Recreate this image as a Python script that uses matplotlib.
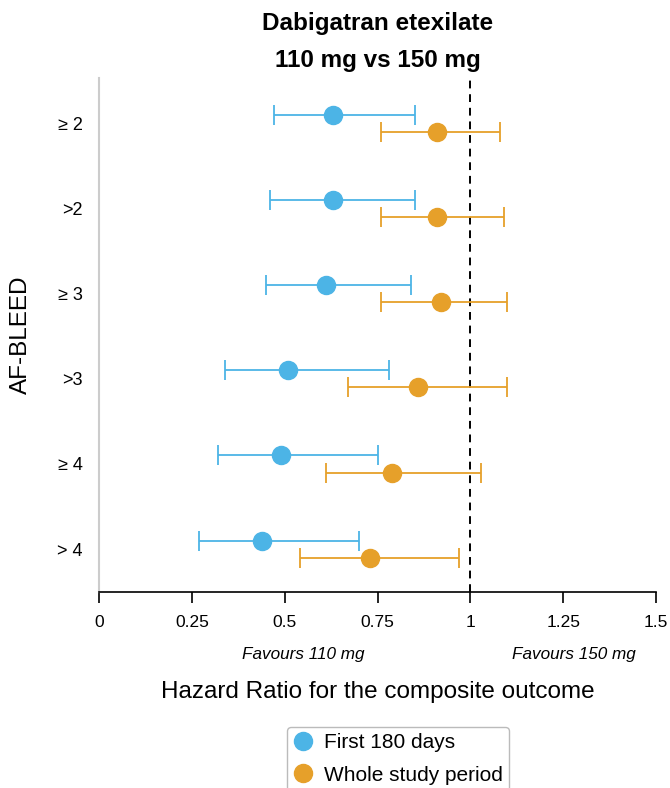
import matplotlib
matplotlib.use("Agg")
import matplotlib.pyplot as plt
from matplotlib.lines import Line2D
import numpy as np

plt.rcParams["font.family"] = ["Liberation Sans", "DejaVu Sans"]

# AF-BLEED categories, top to bottom
labels = ["\u2265 2", ">2", "\u2265 3", ">3", "\u2265 4", "> 4"]

# First 180 days
hr_180 = [0.63, 0.63, 0.61, 0.51, 0.49, 0.44]
lo_180 = [0.47, 0.46, 0.45, 0.34, 0.32, 0.27]
hi_180 = [0.85, 0.85, 0.84, 0.78, 0.75, 0.70]

# Whole study period
hr_all = [0.91, 0.91, 0.92, 0.86, 0.79, 0.73]
lo_all = [0.76, 0.76, 0.76, 0.67, 0.61, 0.54]
hi_all = [1.08, 1.09, 1.10, 1.10, 1.03, 0.97]

xticks = [0, 0.25, 0.5, 0.75, 1, 1.25, 1.5]
xticklabels = ["0", "0.25", "0.5", "0.75", "1", "1.25", "1.5"]

blue = "#4cb4e6"
orange = "#e6a02a"

fig = plt.figure(figsize=(6.7, 7.88), dpi=100)
ax = fig.add_axes([0.148, 0.249, 0.831, 0.652])

y = np.arange(len(labels))
off = 0.1

hr_180 = np.array(hr_180)
hr_all = np.array(hr_all)
err_180 = [hr_180 - np.array(lo_180), np.array(hi_180) - hr_180]
err_all = [hr_all - np.array(lo_all), np.array(hi_all) - hr_all]

ax.axvline(1, color="black", linestyle=(0, (4, 3)), linewidth=1.4, zorder=1)

ax.errorbar(hr_180, y - off, xerr=err_180, fmt="o", color=blue, ms=13,
            elinewidth=1.3, capsize=7, capthick=1.3, zorder=3)
ax.errorbar(hr_all, y + off, xerr=err_all, fmt="o", color=orange, ms=13,
            elinewidth=1.3, capsize=7, capthick=1.3, zorder=3)

ax.set_xlim(0, 1.5)
ax.set_ylim(5.5, -0.53)
ax.set_xticks(xticks)
ax.set_xticklabels(xticklabels, fontsize=12.5)
ax.set_yticks(y)
ax.set_yticklabels(labels, fontsize=13)
ax.tick_params(axis="y", length=0, pad=12)
ax.tick_params(axis="x", length=8, width=1.2, pad=9)

for s in ["top", "right"]:
    ax.spines[s].set_visible(False)
ax.spines["left"].set_color("#cccccc")
ax.spines["left"].set_linewidth(1.5)
ax.spines["bottom"].set_linewidth(1.2)

ax.set_ylabel("AF-BLEED", fontsize=17.5, labelpad=18)
ax.set_title("Dabigatran etexilate\n110 mg vs 150 mg", fontsize=17.5,
             fontweight="bold", linespacing=1.8, pad=8)

ax.text(0.55, -0.123, "Favours 110 mg", transform=ax.get_xaxis_transform(),
        ha="center", va="center", fontsize=12.3, style="italic")
ax.text(1.28, -0.123, "Favours 150 mg", transform=ax.get_xaxis_transform(),
        ha="center", va="center", fontsize=12.3, style="italic")
ax.text(0.75, -0.196, "Hazard Ratio for the composite outcome",
        transform=ax.get_xaxis_transform(), ha="center", va="center", fontsize=17.5)

handles = [Line2D([], [], marker="o", ls="none", color=blue, ms=13),
           Line2D([], [], marker="o", ls="none", color=orange, ms=13)]
fig.legend(handles, ["First 180 days", "Whole study period"],
           loc="upper center", bbox_to_anchor=(0.594, 0.078 + 0.0127), fontsize=15,
           frameon=True, fancybox=True, edgecolor="#aaaaaa",
           handletextpad=0.5, borderpad=0.3, labelspacing=0.65, handlelength=1.0)

fig.savefig("out.png", dpi=100)
